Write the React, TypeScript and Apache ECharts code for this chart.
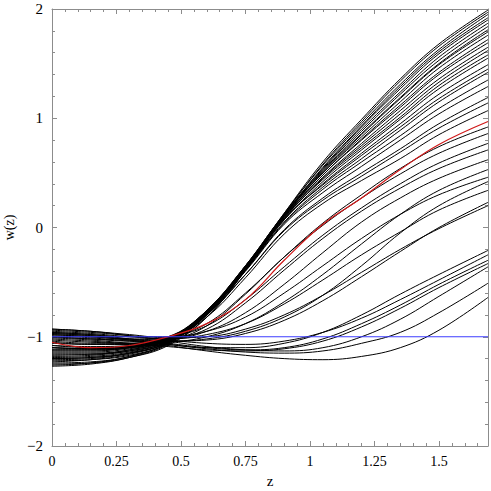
import React, { useEffect, useRef } from "react";
import * as echarts from "echarts";

// z sample positions
const zValues = [0, 0.15, 0.3, 0.45, 0.6, 0.75, 0.9, 1.05, 1.2, 1.35, 1.5, 1.69];

// black reconstructions of w(z)
const upperCurves: number[][] = [
  [-1.24, -1.23, -1.18, -1.06, -0.8, -0.37, 0.13, 0.6, 0.99, 1.36, 1.68, 1.99],
  [-1.27, -1.25, -1.19, -1.07, -0.82, -0.39, 0.12, 0.58, 0.97, 1.34, 1.66, 1.97],
  [-1.2, -1.19, -1.15, -1.05, -0.79, -0.36, 0.13, 0.57, 0.95, 1.31, 1.63, 1.95],
  [-1.25, -1.24, -1.19, -1.08, -0.82, -0.39, 0.11, 0.55, 0.93, 1.29, 1.61, 1.92],
  [-1.18, -1.17, -1.13, -1.04, -0.78, -0.36, 0.12, 0.54, 0.92, 1.27, 1.59, 1.9],
  [-1.22, -1.21, -1.17, -1.06, -0.8, -0.38, 0.11, 0.53, 0.9, 1.24, 1.56, 1.87],
  [-1.15, -1.15, -1.12, -1.03, -0.77, -0.35, 0.12, 0.52, 0.88, 1.22, 1.53, 1.84],
  [-1.26, -1.24, -1.18, -1.06, -0.8, -0.39, 0.1, 0.51, 0.86, 1.19, 1.5, 1.81],
  [-1.2, -1.19, -1.15, -1.05, -0.78, -0.37, 0.11, 0.5, 0.85, 1.18, 1.49, 1.79],
  [-1.13, -1.13, -1.1, -1.02, -0.76, -0.35, 0.12, 0.5, 0.83, 1.15, 1.46, 1.76],
  [-1.23, -1.21, -1.16, -1.05, -0.79, -0.38, 0.09, 0.48, 0.81, 1.12, 1.42, 1.72],
  [-1.17, -1.16, -1.13, -1.04, -0.77, -0.36, 0.1, 0.48, 0.8, 1.1, 1.4, 1.69],
  [-1.1, -1.11, -1.09, -1.02, -0.76, -0.35, 0.1, 0.46, 0.77, 1.07, 1.36, 1.65],
  [-1.19, -1.18, -1.14, -1.04, -0.78, -0.38, 0.08, 0.45, 0.75, 1.04, 1.33, 1.62],
  [-1.12, -1.12, -1.1, -1.02, -0.76, -0.36, 0.09, 0.44, 0.73, 1.01, 1.3, 1.58],
  [-1.21, -1.2, -1.15, -1.05, -0.79, -0.39, 0.07, 0.42, 0.71, 0.99, 1.27, 1.55],
  [-1.14, -1.14, -1.11, -1.03, -0.77, -0.38, 0.07, 0.4, 0.68, 0.95, 1.22, 1.49],
  [-1.08, -1.09, -1.08, -1.01, -0.76, -0.37, 0.08, 0.39, 0.66, 0.92, 1.18, 1.45],
  [-1.16, -1.16, -1.12, -1.03, -0.78, -0.39, 0.05, 0.37, 0.63, 0.89, 1.15, 1.42],
  [-1.1, -1.11, -1.09, -1.02, -0.77, -0.39, 0.04, 0.35, 0.6, 0.84, 1.09, 1.35],
  [-1.05, -1.07, -1.07, -1.01, -0.78, -0.4, 0.03, 0.32, 0.56, 0.8, 1.04, 1.29],
  [-1.12, -1.12, -1.1, -1.02, -0.8, -0.43, -0.02, 0.27, 0.5, 0.72, 0.95, 1.19],
  [-1.03, -1.05, -1.06, -1.0, -0.79, -0.43, -0.03, 0.25, 0.47, 0.69, 0.91, 1.14],
  [-1.08, -1.1, -1.09, -1.03, -0.82, -0.46, -0.06, 0.22, 0.43, 0.63, 0.85, 1.07],
];

const middleCurves: number[][] = [
  [-1.04, -1.06, -1.06, -1.01, -0.88, -0.6, -0.27, 0.04, 0.3, 0.54, 0.74, 0.92],
  [-1.1, -1.11, -1.1, -1.04, -0.9, -0.61, -0.27, 0.02, 0.27, 0.49, 0.68, 0.86],
  [-1.0, -1.02, -1.03, -1.0, -0.9, -0.66, -0.36, -0.07, 0.18, 0.4, 0.59, 0.77],
  [-1.06, -1.07, -1.07, -1.03, -0.93, -0.69, -0.39, -0.1, 0.15, 0.36, 0.54, 0.71],
  [-0.98, -1.0, -1.02, -1.02, -0.95, -0.78, -0.52, -0.23, 0.05, 0.27, 0.45, 0.62],
  [-1.02, -1.04, -1.06, -1.05, -1.0, -0.88, -0.68, -0.43, -0.15, 0.12, 0.34, 0.53],
  [-0.96, -0.98, -1.0, -1.0, -0.95, -0.82, -0.6, -0.35, -0.1, 0.12, 0.3, 0.46],
  [-1.0, -1.02, -1.04, -1.04, -1.02, -0.95, -0.82, -0.62, -0.35, -0.05, 0.2, 0.42],
  [-0.95, -0.97, -1.0, -1.02, -0.98, -0.88, -0.7, -0.48, -0.25, -0.04, 0.16, 0.34],
  [-0.97, -0.99, -1.02, -1.04, -1.03, -0.97, -0.85, -0.67, -0.45, -0.22, 0.0, 0.23],
  [-0.93, -0.95, -0.98, -1.01, -1.0, -0.93, -0.8, -0.62, -0.41, -0.2, -0.01, 0.2],
];

const lowerCurves: number[][] = [
  [-0.99, -1.01, -1.04, -1.07, -1.1, -1.1, -1.06, -0.96, -0.8, -0.61, -0.43, -0.21],
  [-0.94, -0.96, -0.99, -1.03, -1.06, -1.07, -1.04, -0.96, -0.83, -0.66, -0.48, -0.25],
  [-0.96, -0.98, -1.02, -1.06, -1.1, -1.12, -1.1, -1.02, -0.88, -0.71, -0.52, -0.3],
  [-1.01, -1.03, -1.06, -1.09, -1.12, -1.13, -1.11, -1.04, -0.91, -0.74, -0.55, -0.33],
  [-0.93, -0.95, -0.99, -1.04, -1.09, -1.12, -1.13, -1.1, -1.0, -0.84, -0.63, -0.36],
  [-0.98, -1.0, -1.03, -1.07, -1.11, -1.14, -1.15, -1.13, -1.06, -0.96, -0.78, -0.51],
  [-0.97, -0.99, -1.03, -1.08, -1.13, -1.17, -1.2, -1.21, -1.18, -1.1, -0.94, -0.64],
];

// highlighted (red) reconstruction
const redCurve = [-1.05, -1.1, -1.08, -1.0, -0.88, -0.66, -0.3, 0.03, 0.27, 0.53, 0.76, 0.97];

// cosmological constant line w = -1
const lambdaZ = [0, 1.69];
const lambdaW = [-1, -1];

const xTicks = [0, 0.25, 0.5, 0.75, 1, 1.25, 1.5];
const yTicks = [-2, -1, 0, 1, 2];

const SERIF = "'Liberation Serif', 'DejaVu Serif', serif";
const AXIS_GREY = "#8c8c8c";

export default function App() {
  const ref = useRef<HTMLDivElement>(null);

  useEffect(() => {
    if (!ref.current) return;
    const chart = echarts.init(ref.current, null, { renderer: "svg" });

    const toPairs = (vals: number[]) => zValues.map((z, i) => [z, vals[i]]);
    const blackSeries = [...upperCurves, ...middleCurves, ...lowerCurves].map((c) => ({
      type: "line",
      data: toPairs(c),
      showSymbol: false,
      smooth: 0.4,
      silent: true,
      lineStyle: { color: "#000", width: 1 },
      z: 2,
    }));

    const fmtX = (v: number) => {
      const hit = xTicks.find((t) => Math.abs(t - v) < 1e-6);
      return hit === undefined ? "" : String(hit);
    };
    const fmtY = (v: number) => {
      const hit = yTicks.find((t) => Math.abs(t - v) < 1e-6);
      if (hit === undefined) return "";
      return hit < 0 ? "\u2212" + Math.abs(hit) : String(hit);
    };

    const axisCommon = {
      axisLine: { show: true, onZero: false, lineStyle: { color: AXIS_GREY, width: 1 } },
      axisTick: { show: true, inside: true, length: 5, lineStyle: { color: AXIS_GREY } },
      minorTick: { show: true, splitNumber: 5, length: 3, lineStyle: { color: AXIS_GREY } },
      splitLine: { show: false },
      minorSplitLine: { show: false },
    };

    chart.setOption({
      animation: false,
      backgroundColor: "#fff",
      grid: { left: 52, top: 9, right: 3, bottom: 45, containLabel: false, outerBoundsMode: "none" },
      xAxis: [
        {
          type: "value",
          min: 0,
          max: 1.69,
          interval: 0.25,
          position: "bottom",
          name: "z",
          nameLocation: "middle",
          nameGap: 27,
          nameTextStyle: { fontFamily: SERIF, fontSize: 15, color: "#000" },
          axisLabel: { formatter: fmtX, fontFamily: SERIF, fontSize: 14, color: "#000", margin: 8, showMaxLabel: false },
          ...axisCommon,
        },
        {
          type: "value",
          min: 0,
          max: 1.69,
          interval: 0.25,
          position: "top",
          axisLabel: { show: false },
          ...axisCommon,
        },
      ],
      yAxis: [
        {
          type: "value",
          min: -2,
          max: 2,
          interval: 1,
          position: "left",
          name: "w(z)",
          nameLocation: "middle",
          nameGap: 33,
          nameTextStyle: { fontFamily: SERIF, fontSize: 14, color: "#000" },
          axisLabel: { formatter: fmtY, fontFamily: SERIF, fontSize: 15, color: "#000", margin: 9 },
          ...axisCommon,
        },
        {
          type: "value",
          min: -2,
          max: 2,
          interval: 1,
          position: "right",
          axisLabel: { show: false },
          ...axisCommon,
        },
      ],
      series: [
        ...blackSeries,
        {
          type: "line",
          data: toPairs(redCurve),
          showSymbol: false,
          smooth: 0.4,
          silent: true,
          lineStyle: { color: "#d01818", width: 1.2 },
          z: 3,
        },
        {
          type: "line",
          data: lambdaZ.map((z, i) => [z, lambdaW[i]]),
          showSymbol: false,
          silent: true,
          lineStyle: { color: "#3c3cff", width: 1 },
          z: 4,
        },
      ],
    });

    return () => chart.dispose();
  }, []);

  return (
    <div
      ref={ref}
      style={{ position: "fixed", left: 0, top: 0, width: 491, height: 491, background: "#fff" }}
    />
  );
}
